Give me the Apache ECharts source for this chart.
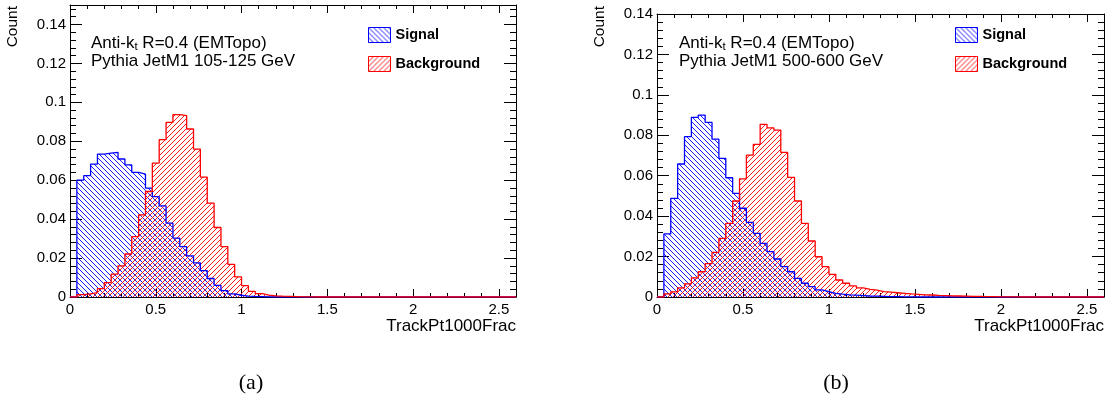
<!DOCTYPE html>
<html><head><meta charset="utf-8">
<script src="https://cdn.jsdelivr.net/npm/echarts@6/dist/echarts.min.js"></script>
<style>html,body{margin:0;padding:0;background:#fff}#c{width:1109px;height:405px}</style>
</head><body><div id="c"></div>
<script>
// ---------------- data ----------------
const BIN_WIDTH = 0.04;   // TrackPt1000Frac bin width
const X_MAX = 2.6;
const seriesNames = ['Signal', 'Background'];
const xTickLabels = ['0', '0.5', '1', '1.5', '2', '2.5'];
const yTickLabels = ['0', '0.02', '0.04', '0.06', '0.08', '0.1', '0.12', '0.14'];
const panelTexts = [
  ['Anti-k{s|t} R=0.4 (EMTopo)', 'Pythia JetM1 105-125 GeV'],
  ['Anti-k{s|t} R=0.4 (EMTopo)', 'Pythia JetM1 500-600 GeV']
];
const captions = ['(a)', '(b)'];
const xTitle = 'TrackPt1000Frac';
const yTitle = 'Count';

// (a) 105-125 GeV, one value per 0.04 bin from 0 to 2.6
const signalA = [0, 0.0600, 0.0623, 0.0683, 0.0734, 0.0739, 0.0743, 0.0709, 0.0679, 0.0640,
  0.0631, 0.0559, 0.0516, 0.0468, 0.0379, 0.0302, 0.0259, 0.0211, 0.0175, 0.0135,
  0.0095, 0.0060, 0.0033, 0.0016, 0.0009, 0.0005, 0.0003, 0.0002, 0.0001, 0,
  0, 0, 0, 0, 0, 0, 0, 0, 0, 0, 0, 0, 0, 0, 0, 0, 0, 0, 0, 0,
  0, 0, 0, 0, 0, 0, 0, 0, 0, 0, 0, 0, 0, 0, 0];
const backgroundA = [0, 0.0012, 0.0016, 0.0022, 0.0043, 0.0074, 0.0118, 0.0160, 0.0221, 0.0310,
  0.0422, 0.0542, 0.0688, 0.0808, 0.0897, 0.0937, 0.0932, 0.0863, 0.0760, 0.0616,
  0.0482, 0.0357, 0.0259, 0.0168, 0.0103, 0.0058, 0.0029, 0.0017, 0.0010, 0.0006,
  0.0004, 0.0003, 0.0002, 0.0001, 0.0001, 0, 0, 0, 0, 0, 0, 0, 0, 0, 0, 0, 0, 0, 0, 0,
  0, 0, 0, 0, 0, 0, 0, 0, 0, 0, 0, 0, 0, 0, 0];
// (b) 500-600 GeV
const signalB = [0, 0.0312, 0.0488, 0.0658, 0.0793, 0.0889, 0.0900, 0.0864, 0.0781, 0.0686,
  0.0590, 0.0513, 0.0439, 0.0369, 0.0315, 0.0265, 0.0224, 0.0188, 0.0150, 0.0125,
  0.0092, 0.0068, 0.0051, 0.0035, 0.0026, 0.0018, 0.0014, 0.0011, 0.0009, 0.0007,
  0.0005, 0.0004, 0.0003, 0.0002, 0.0002, 0.0001, 0.0001, 0, 0, 0, 0, 0, 0, 0, 0, 0, 0, 0, 0, 0,
  0, 0, 0, 0, 0, 0, 0, 0, 0, 0, 0, 0, 0, 0, 0];
const backgroundB = [0, 0.0015, 0.0025, 0.0045, 0.0065, 0.0095, 0.0125, 0.0165, 0.0221, 0.0290,
  0.0364, 0.0475, 0.0584, 0.0702, 0.0755, 0.0854, 0.0837, 0.0826, 0.0715, 0.0592,
  0.0475, 0.0364, 0.0277, 0.0199, 0.0150, 0.0112, 0.0084, 0.0068, 0.0055, 0.0045,
  0.0038, 0.0034, 0.0027, 0.0024, 0.0021, 0.0018, 0.0015, 0.0013, 0.0011, 0.0010,
  0.0008, 0.0007, 0.0006, 0.0005, 0.0004, 0.0003, 0.0003, 0.0002, 0.0002, 0.0001,
  0.0001, 0.0001, 0, 0, 0, 0, 0, 0, 0, 0, 0, 0, 0, 0, 0];

// ---------------- layout / style ----------------
const FONT = "'Liberation Sans', Arial, Helvetica, sans-serif";
const SERIF = "'Liberation Serif', 'DejaVu Serif', serif";
const BLUE = '#0000ff', RED = '#ff0000';
const panels = [
  { grid: { left: 70, top: 5, width: 446, height: 292 }, yMax: 0.15, sig: signalA, bkg: backgroundA,
    textX: 91, legendX: 368, countX: 13, caption: [251, 383] },
  { grid: { left: 657, top: 14, width: 447, height: 283 }, yMax: 0.14, sig: signalB, bkg: backgroundB,
    textX: 679, legendX: 955, countX: 600, caption: [836, 383] }
];

function hatch(color, dir) {
  const s = 5;
  const c = document.createElement('canvas');
  c.width = s; c.height = s;
  const ctx = c.getContext('2d');
  ctx.strokeStyle = color; ctx.lineWidth = 0.9;
  ctx.beginPath();
  for (const k of [-s, 0, s]) {
    if (dir === 'back') { ctx.moveTo(k, 0); ctx.lineTo(k + s, s); }
    else { ctx.moveTo(k + s, 0); ctx.lineTo(k, s); }
  }
  ctx.stroke();
  return { image: c, repeat: 'repeat' };
}
const blueHatch = hatch(BLUE, 'back');
const redHatch = hatch(RED, 'fwd');

function fmt(v) { return String(+(+v).toFixed(4)); }
function histData(vals) {
  const d = vals.map((v, i) => [+(i * BIN_WIDTH).toFixed(4), v]);
  d.push([+(vals.length * BIN_WIDTH).toFixed(4), 0]);
  return d;
}

const xAxis = [], yAxis = [], grid = [], series = [], legend = [], texts = [];
panels.forEach((p, g) => {
  grid.push(Object.assign({ outerBoundsMode: 'none', containLabel: false }, p.grid));
  const tick = (len) => ({ show: true, inside: true, length: len, lineStyle: { color: '#000', width: 1 } });
  const line = (show) => ({ show, onZero: false, lineStyle: { color: '#000', width: 1 } });
  const noSplit = { show: false };
  const xLab = { show: true, margin: 5, fontSize: 15, color: '#000', fontFamily: FONT, hideOverlap: false,
    formatter: v => { const s = fmt(v); return xTickLabels.includes(s) ? s : ''; } };
  const yLab = { show: true, margin: 4, fontSize: 15, color: '#000', fontFamily: FONT, hideOverlap: false,
    formatter: v => { const s = fmt(v); return yTickLabels.includes(s) ? s : ''; } };
  const xb = { gridIndex: g, type: 'value', min: 0, max: X_MAX, splitLine: noSplit };
  xAxis.push(Object.assign({}, xb, { position: 'bottom', interval: 0.5, axisLine: line(true), axisTick: tick(8), axisLabel: xLab }));
  xAxis.push(Object.assign({}, xb, { position: 'bottom', interval: 0.1, axisLine: line(false), axisTick: tick(4), axisLabel: { show: false } }));
  xAxis.push(Object.assign({}, xb, { position: 'top', interval: 0.5, axisLine: line(true), axisTick: tick(8), axisLabel: { show: false } }));
  xAxis.push(Object.assign({}, xb, { position: 'top', interval: 0.1, axisLine: line(false), axisTick: tick(4), axisLabel: { show: false } }));
  const yb = { gridIndex: g, type: 'value', min: 0, max: p.yMax, splitLine: noSplit };
  yAxis.push(Object.assign({}, yb, { position: 'left', interval: 0.02, axisLine: line(true), axisTick: tick(12), axisLabel: yLab }));
  yAxis.push(Object.assign({}, yb, { position: 'left', interval: 0.004, axisLine: line(false), axisTick: tick(6), axisLabel: { show: false } }));
  yAxis.push(Object.assign({}, yb, { position: 'right', interval: 0.02, axisLine: line(true), axisTick: tick(12), axisLabel: { show: false } }));
  yAxis.push(Object.assign({}, yb, { position: 'right', interval: 0.004, axisLine: line(false), axisTick: tick(6), axisLabel: { show: false } }));

  [[p.sig, BLUE, blueHatch, seriesNames[0]], [p.bkg, RED, redHatch, seriesNames[1]]].forEach(([vals, col, pat, name]) => {
    series.push({
      type: 'line', name, xAxisIndex: 4 * g, yAxisIndex: 4 * g, data: histData(vals),
      step: 'end', symbol: 'none', showSymbol: false, silent: true, animation: false,
      lineStyle: { color: col, width: 1.3 }, itemStyle: { color: col },
      areaStyle: { color: pat, opacity: 1, origin: 'start' }
    });
  });

  legend.push({
    left: p.legendX, top: 27, orient: 'vertical', itemWidth: 22, itemHeight: 15, itemGap: 13, padding: 0,
    icon: 'rect', selectedMode: false,
    textStyle: { fontFamily: FONT, fontSize: 14.5, fontWeight: 'bold', color: '#000' },
    data: [
      { name: seriesNames[0], itemStyle: { color: blueHatch, borderColor: BLUE, borderWidth: 1 } },
      { name: seriesNames[1], itemStyle: { color: redHatch, borderColor: RED, borderWidth: 1 } }
    ]
  });

  const gx = p.grid.left + p.grid.width;
  const gyb = p.grid.top + p.grid.height;
  texts.push({ type: 'text', x: p.textX, y: 43, silent: true,
    style: { text: panelTexts[g][0], fontSize: 17, fontFamily: FONT, fill: '#000', align: 'left', verticalAlign: 'middle', lineHeight: 20,
      rich: { s: { fontSize: 11.5, fontFamily: FONT, lineHeight: 11, verticalAlign: 'bottom', fill: '#000' } } } });
  texts.push({ type: 'text', x: p.textX, y: 61, silent: true,
    style: { text: panelTexts[g][1], fontSize: 17, fontFamily: FONT, fill: '#000', align: 'left', verticalAlign: 'middle' } });
  texts.push({ type: 'text', x: p.countX, y: 6, rotation: Math.PI / 2, silent: true,
    style: { text: yTitle, fontSize: 15.5, fontFamily: FONT, fill: '#000', align: 'right', verticalAlign: 'middle' } });
  texts.push({ type: 'text', x: gx, y: gyb + 29, silent: true,
    style: { text: xTitle, fontSize: 17, fontFamily: FONT, fill: '#000', align: 'right', verticalAlign: 'middle' } });
  texts.push({ type: 'text', x: p.caption[0], y: p.caption[1], silent: true,
    style: { text: captions[g], fontSize: 22, fontFamily: SERIF, fill: '#000', align: 'center', verticalAlign: 'middle' } });
});

const chart = echarts.init(document.getElementById('c'), null, { renderer: 'canvas' });
chart.setOption({
  animation: false,
  backgroundColor: '#fff',
  grid, xAxis, yAxis, series, legend,
  graphic: { elements: texts }
});
</script></body></html>
